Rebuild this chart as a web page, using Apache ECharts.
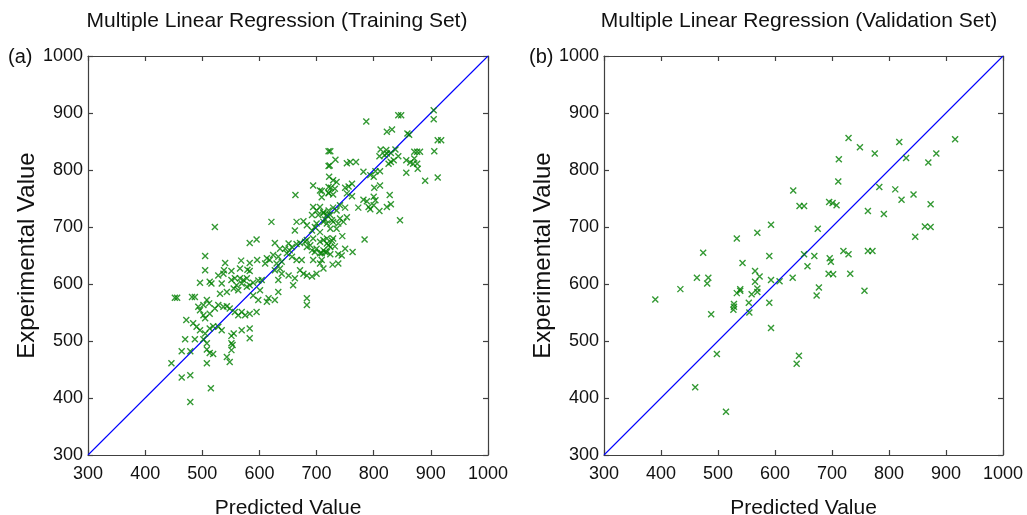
<!DOCTYPE html>
<html>
<head>
<meta charset="utf-8">
<script src="https://cdn.jsdelivr.net/npm/echarts@6/dist/echarts.min.js"></script>
<style>
html,body{margin:0;padding:0;background:#fff;}
#chart{width:1027px;height:515px;}
</style>
</head>
<body>
<div id="chart"></div>
<script>
// ---------- data ----------
const axisTicks = [300, 400, 500, 600, 700, 800, 900, 1000];
const diagonal = [300, 1000];
const titles = ['Multiple Linear Regression (Training Set)', 'Multiple Linear Regression (Validation Set)'];
const panelLabels = ['(a)', '(b)'];
const xName = 'Predicted Value';
const yName = 'Experimental Value';

const trainPred = [
905,905,843,848,787,823,832,859,862,912,918,724,906,812,822,830,838,871,876,881,
733,753,759,769,723,810,819,823,843,857,864,871,876,869,877,857,782,803,811,794,
800,826,830,835,890,912,729,735,725,732,709,721,729,750,756,762,753,762,782,788,
801,811,800,803,800,828,830,823,773,791,794,810,846,729,735,721,712,724,715,727,
741,753,741,750,
745,784,763,724,738,728,738,709,712,718,727,729,721,724,732,712,718,709,718,729,
738,747,724,735,
522,621,665,677,700,712,583,595,627,651,645,657,665,671,683,694,706,718,683,692,
697,706,715,694,706,712,648,657,665,674,624,633,639,630,618,610,613,583,596,568,
505,540,551,538,505,627,636,651,662,659,633,639,671,677,683,692,700,528,537,566,
579,583,496,513,516,551,557,566,572,578,569,560,555,563,578,583,589,598,604,534,
543,531,601,616,613,589,598,633,627,683,683,452,456,482,487,508,512,502,493,496,
502,505,513,522,528,537,543,548,557,563,569,575,583,595,472,484,490,496,505,513,
519,528,534,555,569,583,470,487,502,508,551,551,583,
721,721,722,721,721,694,706,709,663,694,700,706,712,703,692,718,
662,683,692,697,706,
553,551,464,479,508,513,519,543,548,508,446,464,479,515,479,
636,653,689,700,744,750,680
];
const trainExp = [
905,889,896,896,885,867,871,864,862,852,852,833,833,836,835,830,836,832,832,832,
818,812,814,814,808,824,826,829,824,817,813,820,811,811,802,795,797,798,798,791,
788,811,814,817,781,787,782,779,769,767,763,760,757,769,771,776,759,754,748,745,
769,773,753,747,738,756,740,735,734,735,731,728,712,734,729,729,724,721,713,712,
715,717,738,734,
684,678,656,652,652,634,636,642,677,680,676,680,668,665,666,659,656,654,706,709,
706,709,697,697,
700,709,709,710,706,709,672,678,672,671,662,665,670,672,677,680,674,671,665,659,
656,654,656,642,636,627,654,648,642,642,651,648,639,636,642,636,645,637,642,641,
649,637,623,624,624,624,627,615,610,598,607,618,624,618,615,613,618,615,618,627,
625,623,602,604,601,607,610,610,607,610,601,598,592,589,595,598,602,606,607,601,
586,583,589,575,569,580,572,586,572,575,563,576,576,577,577,572,566,563,560,554,
545,540,548,557,563,560,561,557,551,545,551,545,548,551,537,531,525,519,513,522,
526,525,519,513,519,522,503,503,503,496,509,496,505,
833,807,788,770,759,773,764,752,756,735,729,735,726,721,721,721,
694,703,694,700,691,
493,484,482,482,485,479,477,472,463,461,461,436,440,417,393,
662,659,668,662,650,662,674
];

const validPred = [
632,643,593,569,533,474,543,590,565,573,565,463,483,481,593,608,631,434,539,569,
390,533,539,559,569,528,528,527,554,590,555,488,593,498,460,514,642,638,694,702,
732,677,673,757,729,749,818,775,830,712,869,711,783,811,822,843,651,695,701,708,
763,791,863,873,846,675,651,669,657,696,698,720,729,763,771,916,883,873
];
const validExp = [
764,737,704,690,680,655,637,649,623,613,604,611,611,601,607,605,611,591,591,592,
573,584,588,582,586,565,560,555,567,567,550,547,523,477,419,376,474,460,618,617,
618,594,580,588,856,840,849,829,821,819,813,780,770,766,748,757,737,744,742,738,
728,723,701,700,683,697,652,649,631,645,639,658,652,658,658,854,829,740
];

// ---------- build ----------
const FONT = "'Liberation Sans', Arial, sans-serif";
const pairs = (a, b) => a.map((v, i) => [v, b[i]]);
const diag = [[diagonal[0], diagonal[0]], [diagonal[1], diagonal[1]]];
const xSym = 'path://M0,0L10,10M10,0L0,10';

const grids = [
  {left: 88, top: 56, width: 400, height: 399, containLabel: false, outerBoundsMode: 'none'},
  {left: 604, top: 56, width: 399, height: 399, containLabel: false, outerBoundsMode: 'none'}
];

function axis(gridIndex, position, main, name, nameGap, nameSize) {
  const o = {
    type: 'value', gridIndex: gridIndex, position: position,
    min: axisTicks[0], max: axisTicks[axisTicks.length - 1], interval: axisTicks[1] - axisTicks[0],
    splitLine: {show: false},
    axisLine: {show: true, onZero: false, lineStyle: {color: '#404040', width: 1.2}},
    axisTick: {show: true, inside: true, length: 5, lineStyle: {color: '#404040', width: 1.2}},
    axisLabel: {show: main, color: '#111', fontSize: 18, fontFamily: FONT,
                margin: position === 'bottom' ? 10 : 5,
                formatter: v => String(v)},
    silent: true
  };
  if (name) {
    o.name = name;
    o.nameLocation = 'middle';
    o.nameGap = nameGap;
    o.nameTextStyle = {color: '#111', fontSize: nameSize, fontFamily: FONT};
  }
  return o;
}

const xAxes = [], yAxes = [], series = [], graphics = [];
const datasets = [pairs(trainPred, trainExp), pairs(validPred, validExp)];
const titleCenters = [277, 799];
const labelX = [8, 529];

grids.forEach((g, i) => {
  xAxes.push(axis(i, 'bottom', true, xName, 43, 21));
  xAxes.push(axis(i, 'top', false));
  yAxes.push(axis(i, 'left', true, yName, i === 0 ? 47 : 48, 24));
  yAxes.push(axis(i, 'right', false));
  series.push({
    type: 'line', xAxisIndex: 2 * i, yAxisIndex: 2 * i, data: diag,
    symbol: 'none', lineStyle: {color: '#0000ff', width: 1.1}, silent: true, z: 2
  });
  series.push({
    type: 'scatter', xAxisIndex: 2 * i, yAxisIndex: 2 * i, data: datasets[i],
    symbol: xSym, symbolSize: 6,
    itemStyle: {color: 'transparent', borderColor: '#008000', borderWidth: 1.4},
    silent: true, z: 3
  });
  graphics.push({
    type: 'text', x: titleCenters[i], y: 21,
    style: {text: titles[i], font: '21px ' + FONT, fill: '#111', textAlign: 'center', textVerticalAlign: 'middle'}
  });
  graphics.push({
    type: 'text', x: labelX[i], y: 57,
    style: {text: panelLabels[i], font: '20px ' + FONT, fill: '#111', textAlign: 'left', textVerticalAlign: 'middle'}
  });
});

const chart = echarts.init(document.getElementById('chart'), null, {renderer: 'canvas'});
chart.setOption({
  backgroundColor: '#fff',
  animation: false,
  grid: grids,
  xAxis: xAxes,
  yAxis: yAxes,
  series: series,
  graphic: graphics
});
</script>
</body>
</html>
